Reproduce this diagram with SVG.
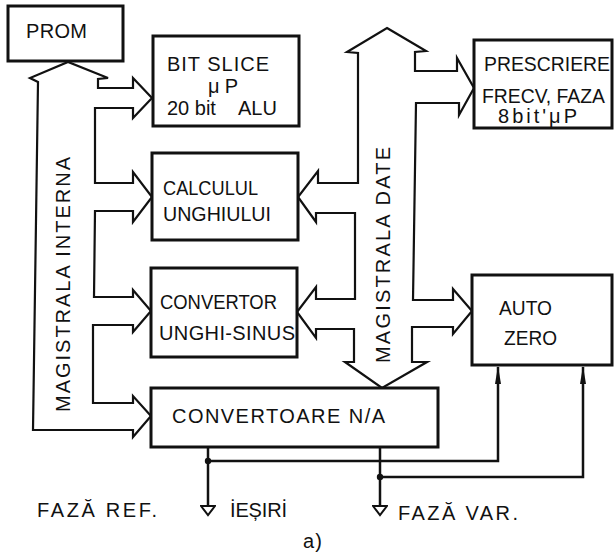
<svg xmlns="http://www.w3.org/2000/svg" width="615" height="554" viewBox="0 0 615 554">
<style>
.box{fill:#fff;stroke:#111;stroke-width:3}
.bus{fill:none;stroke:#111;stroke-width:2.2;stroke-linejoin:miter}
.wire{fill:none;stroke:#111;stroke-width:2.5}
text{font-family:"Liberation Sans",Arial,sans-serif;font-size:20px;fill:#111}
</style>
<defs>
<marker id="fa" viewBox="0 0 18 8" refX="17" refY="4" markerWidth="18" markerHeight="8" markerUnits="userSpaceOnUse" orient="auto">
<path d="M0,1 L18,4 L0,7 Z" fill="#111"/>
</marker>
<marker id="ot" viewBox="0 0 12 16" refX="1" refY="8" markerWidth="12" markerHeight="16" markerUnits="userSpaceOnUse" orient="auto">
<path d="M1,1 L10,8 L1,15 Z" fill="#fff" stroke="#111" stroke-width="2"/>
</marker>
</defs>
<rect width="615" height="554" fill="#fff"/>

<g id="connectors">
<path id="bus-interna" class="bus" d="M38,82 L30,78 L68,62 L108,78 L98,79 L98,88 L133,88 L133,78 L152,98 L133,118 L133,108 L95,108 L95,183 L133,183 L133,172 L152,197 L133,222 L133,211 L95,211 L94,297 L133,297 L133,290 L151,311 L133,332 L133,325 L93,325 L93,403 L133,403 L133,396 L151,416 L133,437 L133,430 L33,430 Z"/>
<path id="bus-date" class="bus" d="M387,28 L426,51 L415,52 L415,71 L457,71 L457,58 L474,88 L459,115 L459,103 L416,103 L413,300 L453,300 L453,289 L472,311 L453,334 L453,327 L412,327 L412,362 L427,362 L382,388 L345,362 L354,362 L354,329 L316,329 L316,338 L297,312 L316,287 L316,299 L355,299 L355,213 L316,213 L316,222 L298,197 L318,171 L318,183 L358,183 L358,53 L347,52 Z"/>
<path class="wire" d="M208,447 V506" marker-end="url(#ot)"/>
<path class="wire" d="M380,447 V506" marker-end="url(#ot)"/>
<path class="wire" d="M208,461 H498 V367" marker-end="url(#fa)"/>
<path class="wire" d="M380,477 H583 V367" marker-end="url(#fa)"/>
<circle cx="208" cy="461" r="3.2" fill="#111"/>
<circle cx="380" cy="477" r="3.2" fill="#111"/>
</g>

<g id="prom"><rect class="box" x="8" y="6" width="115" height="55"/>
<text x="26" y="38" textLength="61">PROM</text></g>

<g id="bitslice"><rect class="box" x="153" y="36" width="146" height="90"/>
<text x="167" y="71" textLength="102">BIT SLICE</text>
<text x="208" y="93" textLength="30">μP</text>
<text x="167" y="115">20 bit<tspan x="238">ALU</tspan></text></g>

<g id="calculul"><rect class="box" x="152" y="153" width="146" height="87"/>
<text x="163" y="195" textLength="95" lengthAdjust="spacingAndGlyphs">CALCULUL</text>
<text x="163" y="221" textLength="108" lengthAdjust="spacingAndGlyphs">UNGHIULUI</text></g>

<g id="convertor"><rect class="box" x="151" y="268" width="146" height="89"/>
<text x="160" y="309" textLength="117" lengthAdjust="spacingAndGlyphs">CONVERTOR</text>
<text x="159" y="340" textLength="136">UNGHI-SINUS</text></g>

<g id="convertoare"><rect class="box" x="151" y="388" width="287" height="59"/>
<text x="172" y="423" textLength="213">CONVERTOARE N/A</text></g>

<g id="prescriere"><rect class="box" x="474" y="40" width="138" height="88"/>
<text x="484" y="71" textLength="126" lengthAdjust="spacingAndGlyphs">PRESCRIERE</text>
<text x="482" y="103" textLength="123" lengthAdjust="spacingAndGlyphs">FRECV, FAZA</text>
<text x="498" y="123" textLength="79">8bit'μP</text></g>

<g id="autozero"><rect class="box" x="472" y="275" width="140" height="90"/>
<text x="499" y="315" textLength="53" lengthAdjust="spacingAndGlyphs">AUTO</text>
<text x="504" y="345" textLength="53" lengthAdjust="spacingAndGlyphs">ZERO</text></g>

<g id="labels">
<text transform="translate(70,412) rotate(-90)" textLength="255">MAGISTRALA INTERNA</text>
<text transform="translate(390,363) rotate(-90)" textLength="216">MAGISTRALA DATE</text>
<text x="37" y="517" textLength="120">FAZĂ REF.</text>
<text x="230" y="517" textLength="57">İEȘIRİ</text>
<text x="398" y="520" textLength="120">FAZĂ VAR.</text>
<text x="303" y="548" textLength="19">a)</text>
</g>
</svg>
